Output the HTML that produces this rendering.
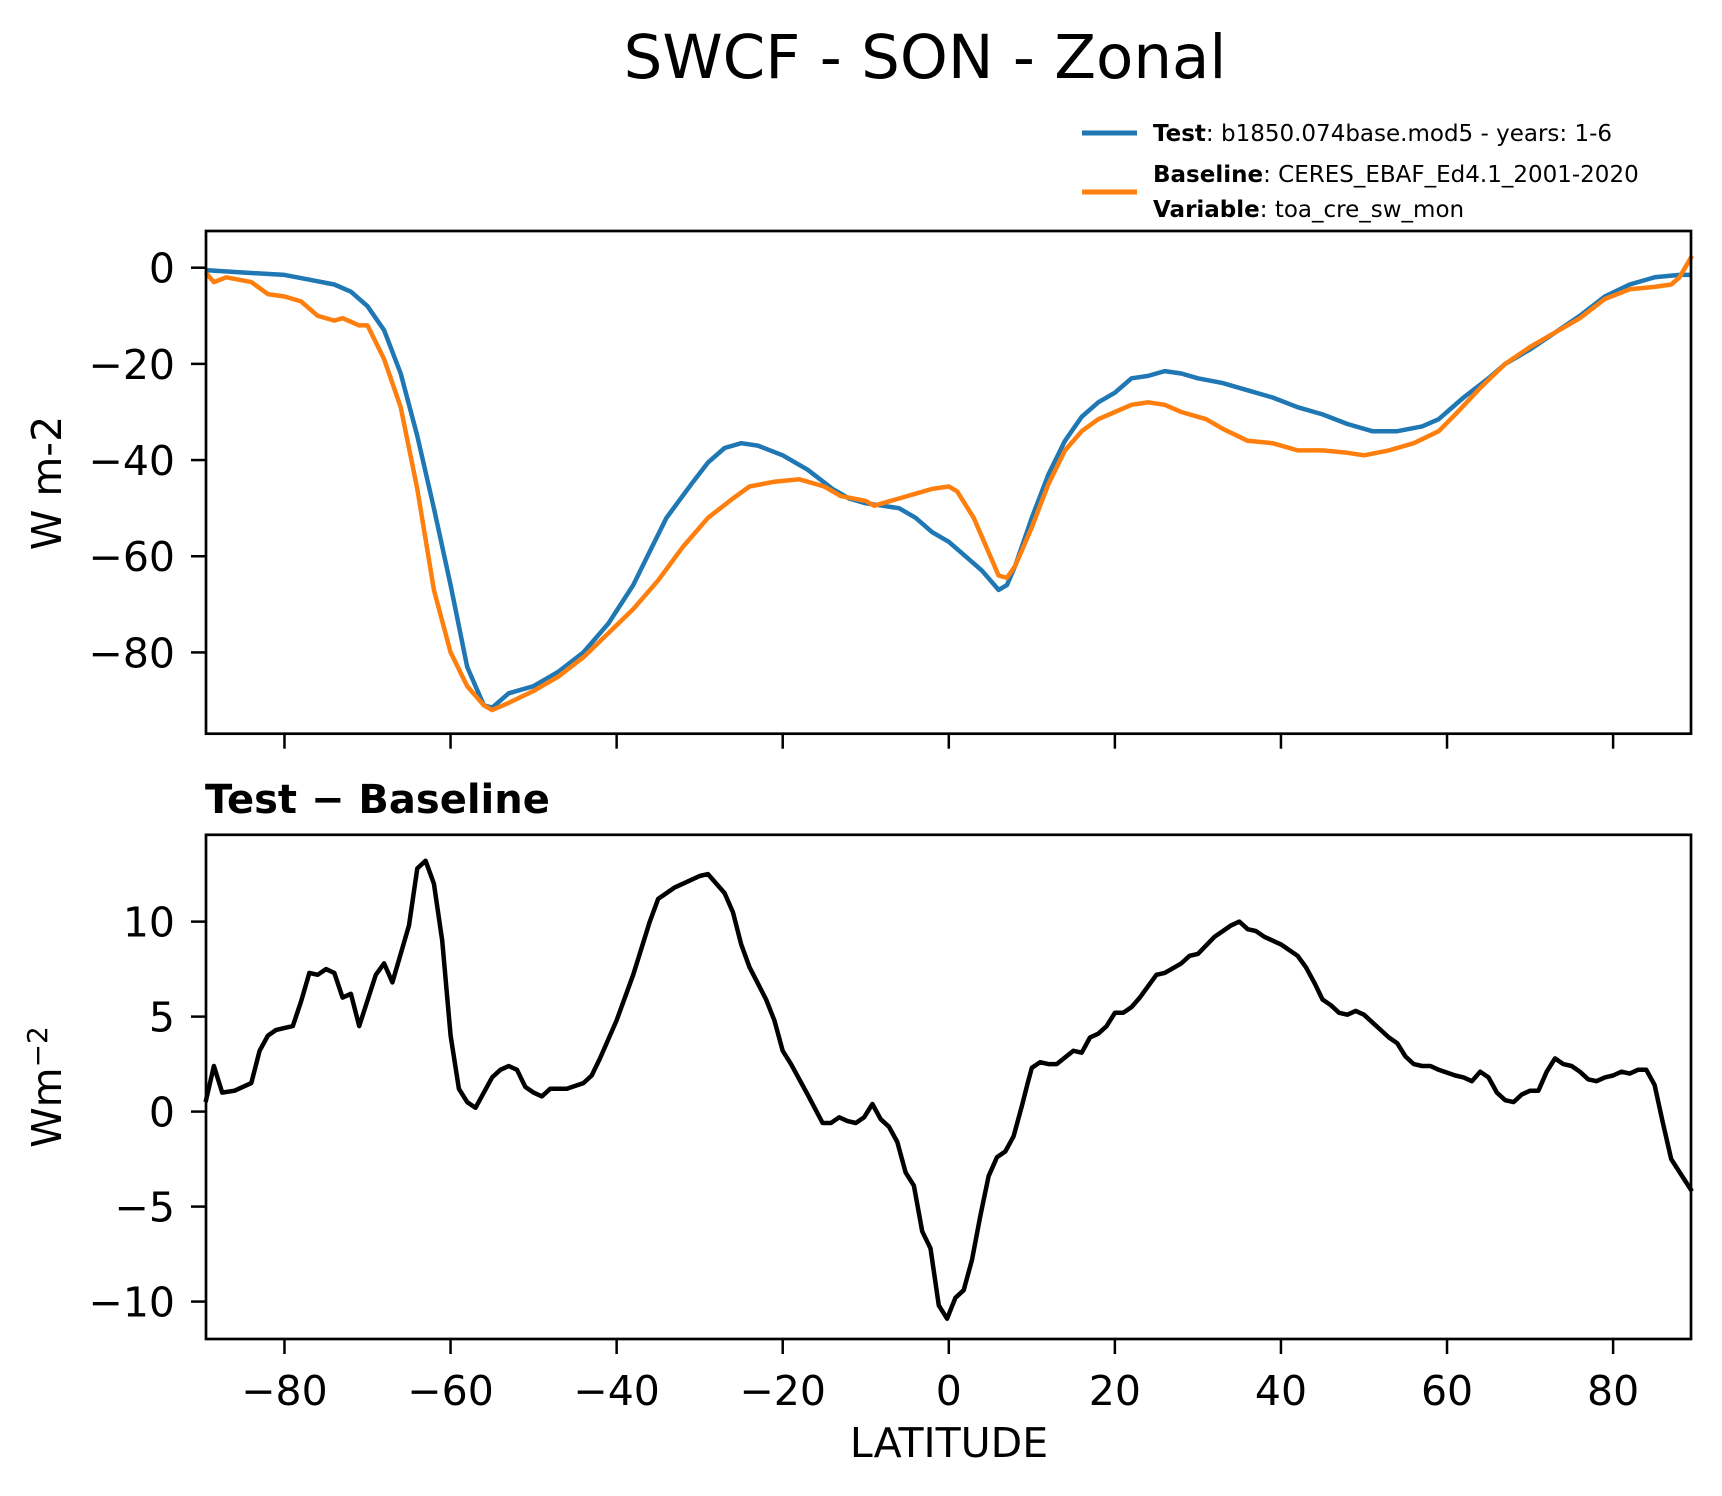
<!DOCTYPE html>
<html><head><meta charset="utf-8"><style>
html,body{margin:0;padding:0;background:#fff;}
svg{display:block;font-family:"DejaVu Sans","Liberation Sans",sans-serif;}
</style></head><body>
<svg id="chart" width="1722" height="1496" viewBox="0 0 1722 1496" xmlns="http://www.w3.org/2000/svg">
<text x="925" y="78" font-size="61" text-anchor="middle">SWCF - SON - Zonal</text>
<g>
<line x1="1082" y1="133" x2="1137" y2="133" stroke="#1f77b4" stroke-width="5"/>
<text x="1153" y="141" font-size="23"><tspan font-weight="bold">Test</tspan>: b1850.074base.mod5 - years: 1-6</text>
<line x1="1082" y1="192" x2="1137" y2="192" stroke="#ff7f0e" stroke-width="5"/>
<text x="1153" y="182" font-size="23"><tspan font-weight="bold">Baseline</tspan>: CERES_EBAF_Ed4.1_2001-2020</text>
<text x="1153" y="217" font-size="23"><tspan font-weight="bold">Variable</tspan>: toa_cre_sw_mon</text>
</g>
<text transform="translate(61,483) rotate(-90)" font-size="41" text-anchor="middle">W m-2</text>
<text x="205" y="813" font-size="40" font-weight="bold">Test − Baseline</text>
<text transform="translate(61,1087) rotate(-90)" font-size="41" text-anchor="middle">Wm<tspan dy="-14" font-size="28">−2</tspan></text>
<text x="949" y="1457" font-size="41" text-anchor="middle">LATITUDE</text>
<g id="top"></g><g id="bot"></g>
</svg>
<script>
const testLat=[-89.5,-85,-80,-77,-74,-72,-70,-68,-66,-64,-62,-60,-58,-56,-55,-53,-50,-47,-44,-41,-38,-36,-34,-31,-29,-27,-25,-23,-20,-17,-14,-12,-10,-8,-6,-4,-2,0,2,4,6,7,8,10,12,14,16,18,20,22,24,26,28,30,33,36,39,42,45,48,51,54,57,59,62,65,67,70,73,76,79,82,85,88,89.5];
const testVal=[-0.5,-1,-1.5,-2.5,-3.5,-5,-8,-13,-22,-35,-50,-66,-83,-91,-91.5,-88.5,-87,-84,-80,-74,-66,-59,-52,-45,-40.5,-37.5,-36.5,-37,-39,-42,-46,-48,-49,-49.5,-50,-52,-55,-57,-60,-63,-67,-66,-62,-52,-43,-36,-31,-28,-26,-23,-22.5,-21.5,-22,-23,-24,-25.5,-27,-29,-30.5,-32.5,-34,-34,-33,-31.5,-27,-23,-20,-17,-13.5,-10,-6,-3.5,-2,-1.5,-1.5];
const baseLat=[-89.5,-88.5,-87,-84,-82,-80,-78,-76,-74,-73,-71,-70,-68,-66,-64,-62,-60,-58,-56,-55,-53,-50,-47,-44,-41,-38,-35,-32,-29,-26,-24,-21,-18,-15,-13,-10,-9,-6,-4,-2,0,1,3,5,6,7,8,10,12,14,16,18,20,22,24,26,28,31,33,36,39,42,45,48,50,53,56,59,61,64,67,70,73,76,79,82,85,87,88,89.5];
const baseVal=[-1,-3,-2,-3,-5.5,-6,-7,-10,-11,-10.5,-12,-12,-19,-29,-46,-67,-80,-87,-91,-92,-90.5,-88,-85,-81,-76,-71,-65,-58,-52,-48,-45.5,-44.5,-44,-45.5,-47.5,-48.5,-49.5,-48,-47,-46,-45.5,-46.5,-52,-60,-64,-64.5,-62,-54,-45,-38,-34,-31.5,-30,-28.5,-28,-28.5,-30,-31.5,-33.5,-36,-36.5,-38,-38,-38.5,-39,-38,-36.5,-34,-30.5,-25,-20,-16.5,-13.5,-10.5,-6.5,-4.5,-4,-3.5,-2,2.5];
const diffLat=[-89.5,-88.5,-87.5,-86,-84,-83,-82,-81,-79,-78,-77,-76,-75,-74,-73,-72,-71,-69,-68,-67,-65,-64,-63,-62,-61,-60,-59,-58,-57,-55,-54,-53,-52,-51,-50,-49,-48,-46,-44,-43,-42,-40,-38,-36,-35,-34,-33,-31,-30,-29,-28,-27,-26,-25,-24,-22,-21,-20,-19,-17,-15.2,-14.2,-13.2,-12.2,-11.2,-10.2,-9.2,-8.2,-7.2,-6.2,-5.2,-4.2,-3.2,-2.2,-1.2,-0.2,0.8,1.8,2.8,3.8,4.8,5.8,6.8,7.8,8.8,9.5,10,11,12,13,15,16,17,18,19,20,21,22,23,25,26,28,29,30,32,33,34,35,36,37,38,40,41,42,43,44,45,46,47,48,49,50,51,52,53,54,55,56,57,58,59,61,62,63,64,65,66,67,68,69,70,71,72,73,74,75,76,77,78,79,80,81,82,83,84,85,86,87,89.5];
const diffVal=[0.5,2.4,1,1.1,1.5,3.2,4,4.3,4.5,5.8,7.3,7.2,7.5,7.3,6,6.2,4.5,7.2,7.8,6.8,9.8,12.8,13.2,12,9,4,1.2,0.5,0.2,1.8,2.2,2.4,2.2,1.3,1,0.8,1.2,1.2,1.5,1.9,2.8,4.8,7.2,10,11.2,11.5,11.8,12.2,12.4,12.5,12,11.5,10.5,8.8,7.6,5.9,4.8,3.2,2.5,0.9,-0.6,-0.6,-0.3,-0.5,-0.6,-0.3,0.4,-0.4,-0.8,-1.6,-3.2,-3.9,-6.3,-7.2,-10.2,-10.9,-9.8,-9.4,-7.8,-5.5,-3.4,-2.4,-2.1,-1.3,0.3,1.5,2.3,2.6,2.5,2.5,3.2,3.1,3.9,4.1,4.5,5.2,5.2,5.5,6,7.2,7.3,7.8,8.2,8.3,9.2,9.5,9.8,10,9.6,9.5,9.2,8.8,8.5,8.2,7.6,6.8,5.9,5.6,5.2,5.1,5.3,5.1,4.7,4.3,3.9,3.6,2.9,2.5,2.4,2.4,2.2,1.9,1.8,1.6,2.1,1.8,1,0.6,0.5,0.9,1.1,1.1,2.1,2.8,2.5,2.4,2.1,1.7,1.6,1.8,1.9,2.1,2,2.2,2.2,1.4,-0.6,-2.5,-4.2];
const xTicks=[-80,-60,-40,-20,0,20,40,60,80];
const topTicks=[0,-20,-40,-60,-80];
const botTicks=[10,5,0,-5,-10];

const NS='http://www.w3.org/2000/svg';
const L=206,R=1691,XMIN=-89.45,XMAX=89.38;
const xs=v=>L+(v-XMIN)/(XMAX-XMIN)*(R-L);
function mk(tag,attrs,parent){const e=document.createElementNS(NS,tag);for(const k in attrs)e.setAttribute(k,attrs[k]);parent.appendChild(e);return e;}
function panel(g,top,bot,ymin,ymax,ticks,showX,name){
  const ys=v=>bot-(v-ymin)/(ymax-ymin)*(bot-top);
  for(const t of ticks){
    const tk=mk('line',{x1:L-15,x2:L,y1:ys(t),y2:ys(t),stroke:'#000','stroke-width':2.5},g);
    
    
    const tx=mk('text',{x:L-31,y:ys(t)+15,'font-size':41,'text-anchor':'end'},g);
    tx.textContent=(t<0?'−':'')+Math.abs(t);
    
    
  }
  for(const t of xTicks){
    const tk=mk('line',{x1:xs(t),x2:xs(t),y1:bot,y2:bot+15,stroke:'#000','stroke-width':2.5},g);
    
    
    if(showX){
      const tx=mk('text',{x:xs(t),y:bot+66,'font-size':41,'text-anchor':'middle'},g);
      tx.textContent=(t<0?'−':'')+Math.abs(t);
      
      
    }
  }
  return ys;
}
function line(g,ys,lat,val,color,name){
  const d=lat.map((a,i)=>(i?'L':'M')+xs(a).toFixed(1)+','+ys(val[i]).toFixed(1)).join('');
  const p=mk('path',{d:d,fill:'none',stroke:color,'stroke-width':4.5,'stroke-linejoin':'round'},g);
  
  
}
const gt=document.getElementById('top');


const TT=231,TB=733.7,BT=834.8,BB=1339;
const ysT=panel(gt,TT,TB,-96.9,7.63,topTicks,false,'top');
line(gt,ysT,testLat,testVal,'#1f77b4','test-line');
line(gt,ysT,baseLat,baseVal,'#ff7f0e','baseline-line');
const f1=mk('rect',{x:L,y:TT,width:R-L,height:TB-TT,fill:'none',stroke:'#000','stroke-width':2.7},gt);


const gb=document.getElementById('bot');


const ysB=panel(gb,BT,BB,-11.97,14.57,botTicks,true,'bottom');
line(gb,ysB,diffLat,diffVal,'#000','difference-line');
const f2=mk('rect',{x:L,y:BT,width:R-L,height:BB-BT,fill:'none',stroke:'#000','stroke-width':2.7},gb);


</script>
</body></html>
